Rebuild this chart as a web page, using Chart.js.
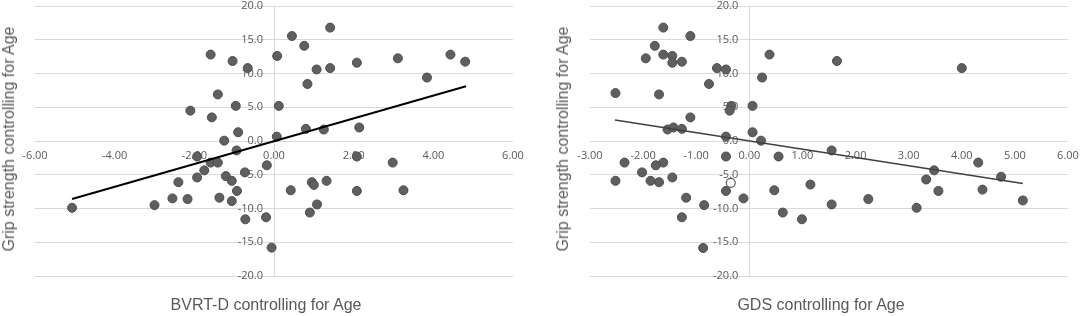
<!DOCTYPE html>
<html>
<head>
<meta charset="utf-8">
<script src="https://cdn.jsdelivr.net/npm/chart.js@4/dist/chart.umd.min.js"></script>
<style>
  body { margin: 0; background: #fff; width: 1081px; height: 316px; overflow: hidden; }
  .panel { position: absolute; top: 0; height: 316px; }
  .ytitle, .xtitle {
    position: absolute; font-family: "Liberation Sans", Arial, sans-serif;
    font-size: 16px; color: #595959; white-space: nowrap;
  }
  .ytitle { transform: translate(-50%, -50%) rotate(-90deg); }
  .xtitle { transform: translate(-50%, -50%); }
</style>
</head>
<body>
<div class="panel" style="left:0;width:540px"><canvas id="bvrt" width="540" height="316"></canvas></div>
<div class="panel" style="left:540px;width:541px"><canvas id="gds" width="541" height="316"></canvas></div>
<div class="ytitle" style="left:9px;top:139px">Grip strength controlling for Age</div>
<div class="ytitle" style="left:563px;top:139px">Grip strength controlling for Age</div>
<div class="xtitle" style="left:266px;top:305px">BVRT-D controlling for Age</div>
<div class="xtitle" style="left:821px;top:305px">GDS controlling for Age</div>
<script>
// left panel: BVRT-D residuals vs grip strength residuals
const bvrtX = [-1.59, -1.04, -0.66, -1.41, -0.96, -2.10, -1.56, -0.90, -1.25, -0.94, -1.93,
  0.45, 1.41, 0.76, 0.08, 2.08, 3.11, 4.43, 4.80, 1.07, 1.41, 0.84, 3.84, 0.12, 0.80, 1.25,
  2.14, 0.07, 2.08, 2.98, -5.07, -3.00, -2.55, -2.17, -2.40, -1.93, -1.75, -1.59, -1.41,
  -1.21, -1.06, -0.93, -1.37, -1.06, -0.73, -0.72, -0.20, -0.06, -0.18, 0.95, 1.00, 1.32,
  0.42, 2.08, 3.25, 1.08, 0.90];
const bvrtY = [12.8, 11.85, 10.8, 6.9, 5.2, 4.5, 3.5, 1.3, 0.05, -1.4, -2.3,
  15.55, 16.8, 14.1, 12.6, 11.6, 12.25, 12.8, 11.75, 10.6, 10.8, 8.45, 9.4, 5.2, 1.8, 1.7,
  2.0, 0.65, -2.3, -3.2, -9.9, -9.5, -8.5, -8.6, -6.1, -5.4, -4.35, -3.2, -3.2,
  -5.2, -5.9, -7.4, -8.4, -8.9, -4.65, -11.6, -11.3, -15.8, -3.6, -6.1, -6.5, -5.9,
  -7.3, -7.4, -7.3, -9.4, -10.6];
const bvrtTrendX = [-5.07, 4.82];
const bvrtTrendY = [-8.6, 8.1];

// right panel: GDS residuals vs grip strength residuals
const gdsX = [-1.62, -1.11, -1.78, -1.62, -1.45, -1.95, -1.45, -1.27, 0.38, -0.61, -0.44,
  -0.76, 0.24, -2.52, -1.70, -0.34, -0.37, 0.06, -1.11, -1.54, -1.43, -1.27, -0.44, 0.06,
  0.22, -0.44, 0.55, -2.35, -1.62, 1.65, 4.00, 1.55, 4.31, -1.76, -2.02, -2.52, -1.86,
  -1.70, -1.45, -1.19, -0.85, -1.27, -0.87, -0.44, -0.11, 0.47, 0.63, 0.99, 1.15, 1.55,
  2.24, 3.15, 3.33, 3.48, 3.56, 4.39, 4.74, 5.15];
const gdsY = [16.8, 15.55, 14.1, 12.8, 12.6, 12.25, 11.6, 11.75, 12.8, 10.8, 10.6,
  8.45, 9.4, 7.1, 6.9, 5.2, 4.5, 5.2, 3.5, 1.7, 2.0, 1.8, 0.65, 1.3,
  0.05, -2.3, -2.3, -3.2, -3.2, 11.85, 10.8, -1.4, -3.2, -3.6, -4.65, -5.9, -5.9,
  -6.1, -5.4, -8.4, -9.5, -11.3, -15.85, -7.4, -8.5, -7.3, -10.6, -11.6, -6.45, -9.4,
  -8.6, -9.9, -5.7, -4.35, -7.4, -7.2, -5.3, -8.8];
const gdsHollowX = [-0.35];
const gdsHollowY = [-6.2];
const gdsTrendX = [-2.53, 5.15];
const gdsTrendY = [3.1, -6.3];

const yTicks = { min: -20, max: 20, step: 5 };

const toPoints = (xs, ys) => xs.map((x, i) => ({ x: x, y: ys[i] }));

// axes sit inside the plot (crossing at 0), so they should take no layout room
const zeroSize = (scale) => {
  if (scale.isHorizontal()) {
    scale.height = 0;
    scale.paddingLeft = 0;
    scale.paddingRight = 0;
  } else {
    scale.width = 0;
    scale.paddingTop = 0;
    scale.paddingBottom = 0;
  }
};

const tickFont = { family: "'Open Sans', 'Noto Sans', sans-serif", size: 11 };

function makeChart(id, xs, ys, trendX, trendY, xr, line, padding, hollow) {
  const datasets = [
    {
      type: "line", data: toPoints(trendX, trendY), borderColor: line.color,
      borderWidth: line.width, pointRadius: 0, fill: false
    },
    {
      data: toPoints(xs, ys), backgroundColor: "#5f5f5f", borderColor: "#4d4d4d",
      borderWidth: 1, pointRadius: 4.5, pointHoverRadius: 4.5
    }
  ];
  if (hollow) {
    datasets.push({
      data: toPoints(hollow[0], hollow[1]), backgroundColor: "#ffffff", borderColor: "#595959",
      borderWidth: 1.2, pointRadius: 4.5
    });
  }
  return new Chart(document.getElementById(id), {
    type: "scatter",
    data: { datasets: datasets },
    options: {
      responsive: false, animation: false, events: [],
      layout: { padding: padding },
      plugins: { legend: { display: false }, tooltip: { enabled: false } },
      scales: {
        x: {
          type: "linear", min: xr.min, max: xr.max, position: { y: 0 },
          grid: { display: false, drawTicks: false },
          border: { display: false },
          ticks: { stepSize: xr.step, color: "#595959", font: tickFont, padding: 8,
            callback: (v) => v.toFixed(2) },
          afterFit: zeroSize
        },
        y: {
          type: "linear", min: yTicks.min, max: yTicks.max, position: { x: 0 },
          grid: { color: "#d9d9d9", lineWidth: 1, drawTicks: false },
          border: { display: true, color: "#d9d9d9", width: 1 },
          ticks: { stepSize: yTicks.step, color: "#595959", font: tickFont, padding: 0,
            // en spaces keep the right-aligned labels clear of the axis line
            callback: (v) => v.toFixed(1) + "\u2002\u2002" },
          afterFit: zeroSize
        }
      }
    }
  });
}

makeChart("bvrt", bvrtX, bvrtY, bvrtTrendX, bvrtTrendY, { min: -6, max: 6, step: 2 },
  { color: "#000000", width: 2 }, { left: 35, right: 27, top: 6, bottom: 40 });
makeChart("gds", gdsX, gdsY, gdsTrendX, gdsTrendY, { min: -3, max: 6, step: 1 },
  { color: "#404040", width: 1.5 }, { left: 50, right: 13, top: 6, bottom: 40 },
  [gdsHollowX, gdsHollowY]);
</script>
</body>
</html>
